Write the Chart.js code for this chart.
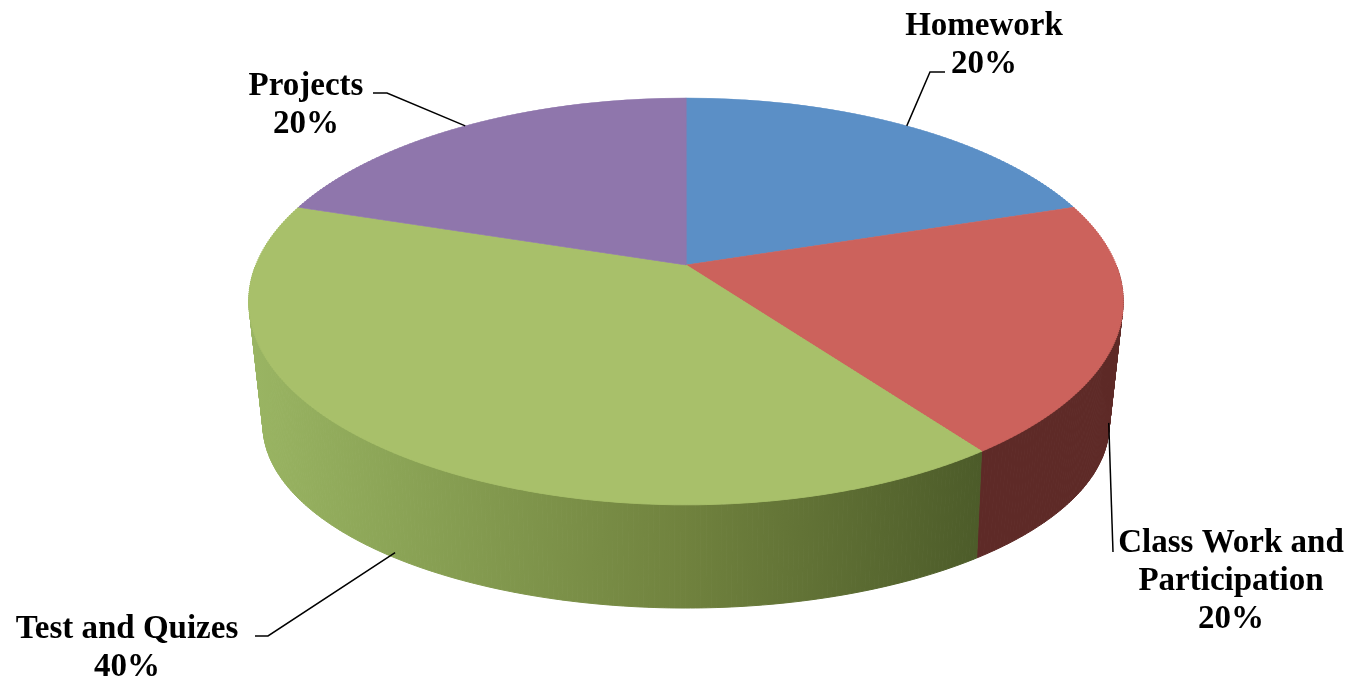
<!DOCTYPE html>
<html>
<head>
<meta charset="utf-8">
<script src="https://cdn.jsdelivr.net/npm/chart.js"></script>
<style>
  html, body { margin: 0; padding: 0; background: #fff; }
  canvas { display: block; }
</style>
</head>
<body>
<canvas id="pastel" width="1361" height="681"></canvas>
<script>
const categorias = ['Homework', 'Class Work and Participation', 'Test and Quizes', 'Projects'];
const lineasEtiqueta = [['Homework'], ['Class Work and', 'Participation'], ['Test and Quizes'], ['Projects']];
const porcentajes = [20, 20, 40, 20];
const coloresTapa = ['#5b8fc6', '#cc625c', '#a8c06a', '#8f76ac'];

// perspectiva: tapa superior y borde inferior (centro x, centro y, semiejes, fuga)
const CX = 686;
const tapa = { y0: 265, a: 430, b: 196.9, e: 0.179 };
const fondo = { y0: 388.4, a: 414.5, b: 175.7, e: 0.2 };

// posicion de etiquetas: centro x, primera linea base y
const posEtiquetas = [[984, 35], [1231, 552], [127, 638], [306, 95]];
const interlinea = 38;
// linea guia: arranque junto al texto, codo y profundidad del punto de contacto
const guiaInicio = [[945, 72], [1113, 552], [255, 636], [373, 93]];
const guiaCodo = [[930, 72], null, [268, 636], [387, 93]];
const guiaProf = [0, 0.8, 0.95, 0];

function proyectar(t, p) {
    const u = Math.cos(t), v = Math.sin(t);
    const w = 1 - p.e * v;
    return [CX + p.a * u / w, p.y0 + p.b * v / w];
}

function puntoPared(t, f) {
    const s = proyectar(t, tapa), i = proyectar(t, fondo);
    return [s[0] + (i[0] - s[0]) * f, s[1] + (i[1] - s[1]) * f];
}

const pastel3D = {
    id: 'pastel3D',
    beforeDatasetsDraw(chart) {
        const ctx = chart.ctx;
        const arcos = chart.getDatasetMeta(0).data;

        // paredes laterales visibles (mitad delantera), por tiras
        const g = ctx.createLinearGradient(CX - 437, 0, CX + 437, 0);
        g.addColorStop(0, '#9ab563');
        g.addColorStop(0.17, '#8ba456');
        g.addColorStop(0.5, '#70823e');
        g.addColorStop(0.84, '#4c5b29');
        g.addColorStop(1, '#45522a');
        arcos.forEach((arco, i) => {
            const a0 = Math.max(arco.startAngle, 0);
            const a1 = Math.min(arco.endAngle, Math.PI);
            if (a1 <= a0) return;
            const color = i === 2 ? g : '#5e2a27';
            ctx.save();
            ctx.fillStyle = color;
            ctx.strokeStyle = color;
            ctx.lineWidth = 1;
            const n = Math.ceil((a1 - a0) / 0.01);
            for (let k = 0; k < n; k++) {
                const t0 = a0 + (a1 - a0) * k / n, t1 = a0 + (a1 - a0) * (k + 1) / n;
                const p1 = proyectar(t0, tapa), p2 = proyectar(t1, tapa);
                const p3 = proyectar(t1, fondo), p4 = proyectar(t0, fondo);
                ctx.beginPath();
                ctx.moveTo(p1[0], p1[1]);
                ctx.lineTo(p2[0], p2[1]);
                ctx.lineTo(p3[0], p3[1]);
                ctx.lineTo(p4[0], p4[1]);
                ctx.closePath();
                ctx.fill();
                ctx.stroke();
            }
            ctx.restore();
        });

        // tapa: arcos dibujados por franjas, una transformacion por franja
        const R = arcos[0].outerRadius, ax = arcos[0].x, ay = arcos[0].y;
        const yIni = Math.floor(tapa.y0 - tapa.b / (1 + tapa.e)) - 2;
        const yFin = Math.ceil(tapa.y0 + tapa.b / (1 - tapa.e)) + 2;
        const paso = 2;
        for (let y = yIni; y < yFin; y += paso) {
            const s = y + paso / 2 - tapa.y0;
            const vm = s / (tapa.b + s * tapa.e);
            const km = 1 / (1 - tapa.e * vm);
            ctx.save();
            ctx.beginPath();
            ctx.rect(0, y, chart.width, paso);
            ctx.clip();
            ctx.translate(CX, tapa.y0 + s - tapa.b * km * km * vm);
            ctx.scale(tapa.a * km / R, tapa.b * km * km / R);
            ctx.translate(-ax, -ay);
            arcos.forEach(a => a.draw(ctx));
            ctx.restore();
        }
        return false;
    },
    afterDraw(chart) {
        const ctx = chart.ctx;
        const arcos = chart.getDatasetMeta(0).data;

        ctx.save();
        ctx.strokeStyle = '#000';
        ctx.lineWidth = 1.5;
        arcos.forEach((arco, i) => {
            const t = (arco.startAngle + arco.endAngle) / 2;
            const p = puntoPared(t, guiaProf[i]);
            ctx.beginPath();
            ctx.moveTo(guiaInicio[i][0], guiaInicio[i][1]);
            if (guiaCodo[i]) ctx.lineTo(guiaCodo[i][0], guiaCodo[i][1]);
            ctx.lineTo(p[0], p[1]);
            ctx.stroke();
        });

        ctx.fillStyle = '#000';
        ctx.font = 'bold 33px "Liberation Serif"';
        ctx.textAlign = 'center';
        ctx.textBaseline = 'alphabetic';
        lineasEtiqueta.forEach((lineas, i) => {
            const texto = lineas.concat([porcentajes[i] + '%']);
            texto.forEach((l, k) => {
                ctx.fillText(l, posEtiquetas[i][0], posEtiquetas[i][1] + k * interlinea);
            });
        });
        ctx.restore();
    }
};

new Chart(document.getElementById('pastel').getContext('2d'), {
    type: 'pie',
    data: {
        labels: categorias,
        datasets: [{
            data: porcentajes,
            backgroundColor: coloresTapa,
            borderColor: coloresTapa,
            borderWidth: 1
        }]
    },
    options: {
        responsive: false,
        animation: false,
        events: [],
        devicePixelRatio: 1,
        plugins: {
            legend: { display: false },
            tooltip: { enabled: false }
        }
    },
    plugins: [pastel3D]
});
</script>
</body>
</html>
